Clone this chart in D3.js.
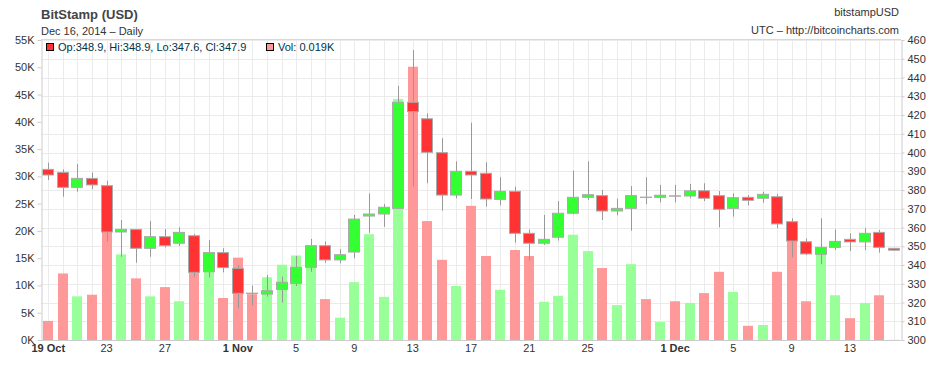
<!DOCTYPE html>
<html>
<head>
<meta charset="utf-8">
<script src="https://cdn.jsdelivr.net/npm/d3@7"></script>
<style>
  body { margin: 0; background: #fff; }
  svg { display: block; font-family: "Liberation Sans", Arial, sans-serif; }
</style>
</head>
<body>
<div id="chart"></div>
<script>
// daily candles, 19 Oct 2014 .. 16 Dec 2014
var days = d3.timeDay.range(new Date(2014, 9, 19), new Date(2014, 11, 17));

var open = [391.0, 389.4, 381.4, 386.2, 382.3, 357.6, 359.0, 348.9, 355.1, 351.6,
  355.6, 336.4, 346.6, 338.2, 325.0, 324.5, 327.0, 330.2, 338.8, 350.3,
  342.7, 346.9, 366.1, 367.2, 370.2, 426.8, 418.0, 399.9, 377.3, 390.0,
  388.9, 375.0, 379.3, 356.9, 351.6, 354.8, 367.6, 376.1, 377.0, 368.8,
  370.2, 376.2, 376.1, 376.9, 376.8, 379.6, 377.0, 370.2, 376.1, 375.6,
  376.4, 363.1, 352.4, 345.7, 349.4, 353.7, 352.3, 357.4, 348.9];
var high = [394.6, 391.0, 393.9, 389.4, 385.0, 364.0, 359.0, 363.5, 359.2, 360.1,
  356.5, 353.3, 348.9, 340.0, 329.0, 334.7, 333.8, 344.8, 353.9, 352.6,
  348.4, 366.7, 378.2, 372.5, 435.5, 454.7, 420.9, 407.6, 395.3, 415.9,
  394.8, 386.8, 381.8, 359.0, 366.7, 374.1, 390.3, 395.3, 380.0, 375.4,
  382.1, 386.8, 382.7, 382.7, 383.2, 383.6, 379.5, 378.2, 377.3, 379.1,
  377.9, 364.9, 354.2, 364.9, 359.0, 356.9, 359.6, 358.7, 348.9];
var low = [385.3, 376.4, 379.1, 380.4, 352.4, 344.4, 341.2, 344.4, 349.4, 350.1,
  333.4, 333.4, 336.1, 316.9, 318.3, 323.1, 319.9, 328.8, 336.4, 341.2,
  340.9, 343.6, 357.2, 360.4, 369.8, 381.8, 383.6, 369.0, 375.6, 375.2,
  371.1, 371.8, 351.9, 342.3, 350.7, 353.0, 367.0, 374.7, 364.0, 366.5,
  358.3, 372.4, 373.4, 373.4, 375.6, 374.1, 360.1, 365.8, 371.8, 373.2,
  359.6, 344.1, 345.3, 340.4, 348.0, 347.5, 348.0, 346.6, 347.6];
var close = [388.0, 381.4, 386.2, 382.7, 357.6, 359.0, 348.9, 355.1, 350.3, 357.4,
  336.1, 346.6, 338.6, 324.9, 324.8, 326.3, 330.8, 338.8, 350.3, 342.7,
  345.5, 364.5, 367.2, 370.8, 426.8, 421.8, 400.1, 377.3, 390.0, 388.0,
  375.2, 379.3, 356.9, 351.6, 353.7, 367.6, 376.1, 377.5, 368.8, 370.2,
  377.0, 376.0, 377.2, 376.7, 379.6, 375.6, 369.7, 375.9, 374.5, 377.7,
  361.9, 352.8, 345.9, 349.4, 352.6, 352.3, 356.9, 349.4, 347.9];
var volume = [3500, 12200, 8000, 8300, 22000, 15700, 11300, 8000, 9700, 7100,
  14000, 13500, 7700, 15100, 8400, 11500, 13800, 15500, 14500, 7500,
  4100, 10600, 19400, 7900, 44200, 50100, 21800, 14700, 9900, 24600,
  15400, 9200, 16500, 15400, 7000, 8100, 19300, 16300, 13200, 6400,
  13900, 7500, 3300, 7100, 6800, 8600, 12500, 8800, 2600, 2750,
  12500, 19500, 7100, 16200, 8200, 4000, 6800, 8200, 19];

var tickDays = [0, 4, 8, 13, 17, 21, 25, 29, 33, 37, 43, 47, 51, 55];
var tickLabels = ["19 Oct", "23", "27", "1 Nov", "5", "9", "13", "17", "21", "25", "1 Dec", "5", "9", "13"];
var boldTicks = ["19 Oct", "1 Nov", "1 Dec"];

var volTicks = d3.range(0, 55001, 5000);
var priceTicks = d3.range(300, 461, 10);

var width = 944, height = 366;
var plotLeft = 41, plotRight = 901, plotTop = 40, plotBottom = 340;

var svg = d3.select("#chart").append("svg")
  .attr("width", width)
  .attr("height", height);

var x = d3.scaleBand()
  .domain(d3.range(days.length))
  .range([plotLeft, plotRight])
  .padding(0);
var cx = function (i) { return x(i) + x.bandwidth() / 2; };

var yPrice = d3.scaleLinear().domain([300, 460]).range([plotBottom, plotTop]);
var yVol = d3.scaleLinear().domain([0, 55000]).range([plotBottom, plotTop]);

// grid
svg.append("g").selectAll("line")
  .data(priceTicks)
  .enter().append("line")
  .attr("x1", plotLeft).attr("x2", plotRight)
  .attr("y1", function (d) { return Math.round(yPrice(d)) + 0.5; })
  .attr("y2", function (d) { return Math.round(yPrice(d)) + 0.5; })
  .attr("stroke", "#ebebeb");
svg.append("g").selectAll("line")
  .data(d3.range(days.length))
  .enter().append("line")
  .attr("x1", function (i) { return Math.round(cx(i)) + 0.5; })
  .attr("x2", function (i) { return Math.round(cx(i)) + 0.5; })
  .attr("y1", plotTop).attr("y2", plotBottom)
  .attr("stroke", "#ebebeb");

// top border
svg.append("line")
  .attr("x1", plotLeft).attr("x2", plotRight)
  .attr("y1", plotTop - 0.5).attr("y2", plotTop - 0.5)
  .attr("stroke", "#d8d8d8");

var up = function (i) { return close[i] >= open[i]; };

// volume bars
svg.append("g").selectAll("rect")
  .data(d3.range(days.length))
  .enter().append("rect")
  .attr("x", function (i) { return Math.round(cx(i) - 5); })
  .attr("width", 10)
  .attr("y", function (i) { return yVol(volume[i]); })
  .attr("height", function (i) { return plotBottom - yVol(volume[i]); })
  .attr("fill", function (i) { return up(i) ? "#99ff99" : "#ff9999"; });

// wicks
svg.append("g").selectAll("line")
  .data(d3.range(days.length))
  .enter().append("line")
  .attr("x1", function (i) { return Math.round(cx(i)) + 0.5; })
  .attr("x2", function (i) { return Math.round(cx(i)) + 0.5; })
  .attr("y1", function (i) { return yPrice(high[i]); })
  .attr("y2", function (i) { return yPrice(low[i]); })
  .attr("stroke", "#999");

// bodies
svg.append("g").selectAll("rect")
  .data(d3.range(days.length))
  .enter().append("rect")
  .attr("x", function (i) { return Math.round(cx(i) - 6) + 0.5; })
  .attr("width", 11)
  .attr("y", function (i) { return yPrice(Math.max(open[i], close[i])); })
  .attr("height", function (i) { return Math.abs(yPrice(open[i]) - yPrice(close[i])); })
  .attr("fill", function (i) { return up(i) ? "#33ff33" : "#ff3333"; })
  .attr("stroke", "#aaa");

// axes
var axisLeft = svg.append("g")
  .attr("transform", "translate(" + (plotLeft + 0.5) + ",0)")
  .call(d3.axisLeft(yVol).tickValues(volTicks)
    .tickFormat(function (d) { return (d / 1000) + "K"; })
    .tickSize(4).tickPadding(3).tickSizeOuter(0));
var axisRight = svg.append("g")
  .attr("transform", "translate(" + (plotRight + 0.5) + ",0)")
  .call(d3.axisRight(yPrice).tickValues(priceTicks)
    .tickSize(3).tickPadding(3).tickSizeOuter(0));
var axisBottom = svg.append("g")
  .attr("transform", "translate(0," + (plotBottom + 0.5) + ")")
  .call(d3.axisBottom(x).tickValues(tickDays)
    .tickFormat(function (d, k) { return tickLabels[k]; })
    .tickSize(0).tickPadding(4).tickSizeOuter(0));
axisBottom.select(".domain").attr("d", "M" + plotLeft + ",0H" + plotRight);

[axisLeft, axisRight, axisBottom].forEach(function (g) {
  g.select(".domain").attr("stroke", "#ccc");
  g.selectAll(".tick line").attr("stroke", "#ccc");
  g.selectAll(".tick text")
    .attr("fill", "#333")
    .style("font-size", "11px")
    .style("font-family", "\"Liberation Sans\", Arial, sans-serif");
});
axisBottom.selectAll(".tick text")
  .style("font-weight", function (d, k) { return boldTicks.indexOf(tickLabels[k]) >= 0 ? "bold" : "normal"; });

// titles
svg.append("text").attr("x", 41).attr("y", 19)
  .attr("fill", "#444").style("font-size", "13px").style("font-weight", "bold")
  .text("BitStamp (USD)");
svg.append("text").attr("x", 41).attr("y", 35)
  .attr("fill", "#333").style("font-size", "11px")
  .text("Dec 16, 2014 \u2013 Daily");
svg.append("text").attr("x", 899).attr("y", 16).attr("text-anchor", "end")
  .attr("fill", "#333").style("font-size", "11px")
  .text("bitstampUSD");
svg.append("text").attr("x", 899).attr("y", 34).attr("text-anchor", "end")
  .attr("fill", "#333").style("font-size", "11px")
  .text("UTC \u2013 http://bitcoincharts.com");

// legend for last candle
var last = days.length - 1;
var legend = svg.append("g");
legend.append("rect").attr("x", 46.5).attr("y", 43.5).attr("width", 7).attr("height", 7)
  .attr("fill", up(last) ? "#33ff33" : "#ff3333").attr("stroke", "#000");
legend.append("text").attr("x", 58).attr("y", 51)
  .attr("fill", "#034").style("font-size", "11px")
  .text("Op:" + open[last].toFixed(1) + ", Hi:" + high[last].toFixed(1) +
    ", Lo:" + low[last].toFixed(1) + ", Cl:" + close[last].toFixed(1));
legend.append("rect").attr("x", 266.5).attr("y", 43.5).attr("width", 7).attr("height", 7)
  .attr("fill", up(last) ? "#99ff99" : "#ff9999").attr("stroke", "#000");
legend.append("text").attr("x", 278).attr("y", 51)
  .attr("fill", "#034").style("font-size", "11px")
  .text("Vol: " + (volume[last] / 1000).toFixed(3) + "K");
</script>
</body>
</html>
